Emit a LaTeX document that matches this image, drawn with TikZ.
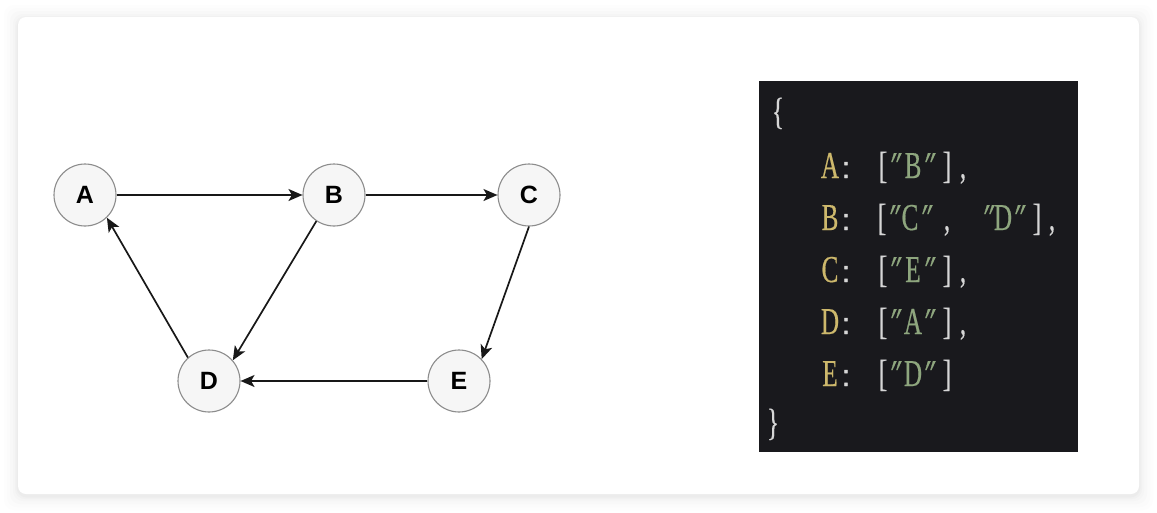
\documentclass[tikz,border=0pt]{standalone}
\usepackage{fontspec}
\usetikzlibrary{arrows.meta}
\setmainfont{Liberation Sans}
\newfontfamily\codefont[FakeStretch=0.66, FakeBold=0.4]{Liberation Serif}
\newfontfamily\quotefont[FakeStretch=0.7, FakeSlant=0.22, FakeBold=0.6]{Liberation Serif}
\newfontfamily\colonfont[FakeBold=1.6]{Liberation Sans}

\definecolor{cardshadow}{HTML}{D8D8D8}
\definecolor{nodefill}{HTML}{F6F6F6}
\definecolor{nodeline}{HTML}{8C8C8C}
\definecolor{edgecol}{HTML}{181818}
\definecolor{codebg}{HTML}{19191D}
\definecolor{keycol}{HTML}{CDB86C}
\definecolor{punctcol}{HTML}{D6D6D6}
\definecolor{strcol}{HTML}{8EA67E}

\tikzset{
  vertex/.style={circle, draw=nodeline, fill=nodefill, line width=1.1pt,
    minimum size=62pt, inner sep=0pt,
    font=\fontsize{25}{25}\selectfont\bfseries, text=black},
  link/.style={draw=edgecol, line width=1.7pt,
    -{Stealth[length=14pt,width=12pt,inset=3.5pt]}},
  codechar/.style={anchor=base, inner sep=0pt,
    font=\codefont\fontsize{38}{38}\selectfont},
  ck/.style={codechar, text=keycol},
  cp/.style={codechar, text=punctcol},
  cs/.style={codechar, text=strcol},
  cq/.style={codechar, text=strcol, font=\quotefont\fontsize{38}{38}\selectfont},
  cc/.style={codechar, text=punctcol, font=\colonfont\fontsize{30}{30}\selectfont},
}

\begin{document}
\begin{tikzpicture}[x=1pt, y=-1pt]
  % page and card
  \fill[white] (0,0) rectangle (1157,512);
  \useasboundingbox (0,0) rectangle (1157,512);
  \foreach \s/\o in {14/0.04, 11/0.05, 8/0.07, 5/0.09, 3/0.12, 1.5/0.16}
    \fill[cardshadow, opacity=\o, rounded corners=10pt]
      (18-\s,17-\s+2) rectangle (1139+\s,494+\s+2);
  \fill[white, rounded corners=8pt] (18,17) rectangle (1139,494);

  % graph
  \node[vertex] (A) at (85,195) {A};
  \node[vertex] (B) at (334,195) {B};
  \node[vertex] (C) at (529,195) {C};
  \node[vertex] (D) at (209,381) {D};
  \node[vertex] (E) at (459,381) {E};

  \draw[link] (A) -- (B);
  \draw[link] (B) -- (C);
  \draw[link] (C.-90) -- (E.44);
  \draw[link] (B.-124) -- (D.41);
  \draw[link] (E) -- (D);
  \draw[link] (D.132) -- (A.-46);

  % adjacency list panel
  \fill[codebg] (759,81) rectangle (1078,452);
  \node[cp] (ob) at (778,124) {\{};
  \node[cp] (cb) at (773,435) {\}};

  \foreach \x/\c/\k [count=\i] in {830/A/ck, 846/:/cc, 883/[/cp, 892/″/cq,
      913/B/cs, 926/″/cq, 947/]/cp, 963/{,}/cp}
    \node[\k] (la\i) at (\x,178) {\c};
  \foreach \x/\c/\k [count=\i] in {830/B/ck, 846/:/cc, 882/[/cp, 891/″/cq,
      910/C/cs, 923/″/cq, 947/{,}/cp, 985/″/cq, 1003/D/cs, 1016/″/cq,
      1037/]/cp, 1052/{,}/cp}
    \node[\k] (lb\i) at (\x,230) {\c};
  \foreach \x/\c/\k [count=\i] in {830/C/ck, 846/:/cc, 883/[/cp, 892/″/cq,
      913/E/cs, 926/″/cq, 947/]/cp, 963/{,}/cp}
    \node[\k] (lc\i) at (\x,282) {\c};
  \foreach \x/\c/\k [count=\i] in {830/D/ck, 846/:/cc, 883/[/cp, 892/″/cq,
      913/A/cs, 926/″/cq, 947/]/cp, 963/{,}/cp}
    \node[\k] (ld\i) at (\x,334) {\c};
  \foreach \x/\c/\k [count=\i] in {830/E/ck, 846/:/cc, 883/[/cp, 892/″/cq,
      913/D/cs, 926/″/cq, 947/]/cp}
    \node[\k] (le\i) at (\x,386) {\c};
\end{tikzpicture}
\end{document}
